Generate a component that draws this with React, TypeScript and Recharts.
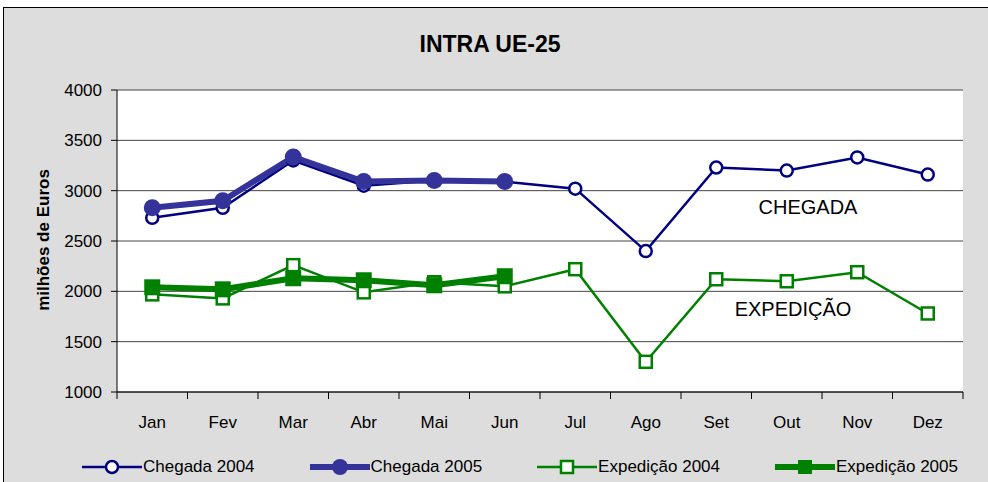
import { CartesianGrid, Line, LineChart, XAxis, YAxis } from 'recharts';

const months = ['Jan', 'Fev', 'Mar', 'Abr', 'Mai', 'Jun', 'Jul', 'Ago', 'Set', 'Out', 'Nov', 'Dez'];
const chegada2004 = [2730, 2830, 3300, 3050, 3100, 3090, 3020, 2400, 3230, 3200, 3330, 3160];
const chegada2005 = [2830, 2900, 3335, 3090, 3100, 3090];
const expedicao2004 = [1970, 1930, 2260, 1990, 2090, 2050, 2220, 1300, 2120, 2100, 2190, 1780];
const expedicao2005 = [2040, 2020, 2130, 2110, 2060, 2150];
const yTicks = [1000, 1500, 2000, 2500, 3000, 3500, 4000];

const data = months.map((m, i) => ({
    month: m,
    c2004: chegada2004[i],
    c2005: chegada2005[i] ?? null,
    e2004: expedicao2004[i],
    e2005: expedicao2005[i] ?? null,
}));

const NAVY = '#000080';
const BLUE = '#333399';
const GREEN = '#008000';
const FONT = 'Arial, "Liberation Sans", sans-serif';

// plot box: x 117..963, y 90..392
const PLOT_W = 846;
const HALF_BAND = PLOT_W / months.length / 2;

function squareDot(size: number, fill: string, strokeWidth: number) {
    return (props: any) => {
        const { cx, cy, index } = props;
        if (cx == null || cy == null || !Number.isFinite(cy)) return <g key={`s-${index}`} />;
        return (
            <rect
                key={`s-${index}`}
                x={cx - size / 2}
                y={cy - size / 2}
                width={size}
                height={size}
                fill={fill}
                stroke={GREEN}
                strokeWidth={strokeWidth}
            />
        );
    };
}

function MonthTick(props: any) {
    const { x, y, payload, index } = props;
    const last = index === months.length - 1;
    return (
        <g>
            <line x1={x - HALF_BAND} y1={y} x2={x - HALF_BAND} y2={y + 7} stroke="#000" />
            {last && <line x1={x + HALF_BAND} y1={y} x2={x + HALF_BAND} y2={y + 7} stroke="#000" />}
            <text x={x} y={y + 36} textAnchor="middle" fontSize={17} fill="#000" fontFamily={FONT}>
                {payload.value}
            </text>
        </g>
    );
}

function LegendIcon({ kind }: { kind: string }) {
    if (kind === 'c2004')
        return (
            <svg width={60} height={18}>
                <line x1={0} y1={9} x2={60} y2={9} stroke={NAVY} strokeWidth={2.5} />
                <circle cx={30} cy={9} r={6} fill="#fff" stroke={NAVY} strokeWidth={2.5} />
            </svg>
        );
    if (kind === 'c2005')
        return (
            <svg width={60} height={18}>
                <line x1={0} y1={9} x2={60} y2={9} stroke={BLUE} strokeWidth={6} />
                <circle cx={30} cy={9} r={8} fill={BLUE} />
            </svg>
        );
    if (kind === 'e2004')
        return (
            <svg width={60} height={18}>
                <line x1={0} y1={9} x2={60} y2={9} stroke={GREEN} strokeWidth={2.5} />
                <rect x={24} y={3} width={12} height={12} fill="#fff" stroke={GREEN} strokeWidth={2.5} />
            </svg>
        );
    return (
        <svg width={60} height={18}>
            <line x1={0} y1={9} x2={60} y2={9} stroke={GREEN} strokeWidth={6} />
            <rect x={23} y={2} width={14} height={14} fill={GREEN} />
        </svg>
    );
}

const legendItems = [
    { key: 'c2004', label: 'Chegada 2004' },
    { key: 'c2005', label: 'Chegada 2005' },
    { key: 'e2004', label: 'Expedição 2004' },
    { key: 'e2005', label: 'Expedição 2005' },
];

export default function App() {
    return (
        <div
            style={{
                position: 'absolute',
                left: 0,
                top: 0,
                width: 988,
                height: 482,
                overflow: 'hidden',
                background: '#fff',
                fontFamily: FONT,
            }}
        >
            <div
                style={{
                    position: 'absolute',
                    left: 3,
                    top: 7,
                    width: 1000,
                    height: 500,
                    background: '#dddddd',
                    borderTop: '1.5px solid #000',
                    borderLeft: '1.5px solid #000',
                }}
            />
            <div style={{ position: 'absolute', left: 0, top: 0 }}>
                <LineChart width={988} height={482} data={data} margin={{ top: 90, right: 25, bottom: 40, left: 0 }}>
                    <CartesianGrid vertical={false} fill="#fff" stroke="#444" strokeOpacity={1} />
                    <XAxis
                        dataKey="month"
                        height={50}
                        padding={{ left: HALF_BAND, right: HALF_BAND }}
                        axisLine={{ stroke: '#000' }}
                        tickLine={false}
                        tickSize={0}
                        tickMargin={0}
                        interval={0}
                        tick={<MonthTick />}
                    />
                    <YAxis
                        width={117}
                        domain={[1000, 4000]}
                        ticks={yTicks}
                        interval={0}
                        axisLine={{ stroke: '#000' }}
                        tickLine={{ stroke: '#000' }}
                        tickSize={6}
                        tickMargin={9}
                        tick={{ fontSize: 17, fill: '#000', fontFamily: FONT }}
                    />
                    <Line
                        type="linear"
                        dataKey="c2004"
                        stroke={NAVY}
                        strokeWidth={2.5}
                        dot={{ r: 6, fill: '#fff', stroke: NAVY, strokeWidth: 2.5 }}
                        activeDot={false}
                        isAnimationActive={false}
                    />
                    <Line
                        type="linear"
                        dataKey="c2005"
                        stroke={BLUE}
                        strokeWidth={6}
                        dot={{ r: 8.5, fill: BLUE, stroke: BLUE, strokeWidth: 0 }}
                        activeDot={false}
                        isAnimationActive={false}
                    />
                    <Line
                        type="linear"
                        dataKey="e2004"
                        stroke={GREEN}
                        strokeWidth={2.5}
                        dot={squareDot(12, '#fff', 2.5)}
                        activeDot={false}
                        isAnimationActive={false}
                    />
                    <Line
                        type="linear"
                        dataKey="e2005"
                        stroke={GREEN}
                        strokeWidth={6}
                        dot={squareDot(16, GREEN, 0)}
                        activeDot={false}
                        isAnimationActive={false}
                    />
                </LineChart>
            </div>

            <div
                style={{
                    position: 'absolute',
                    left: 490,
                    top: 44,
                    transform: 'translate(-50%, -50%)',
                    fontSize: 23,
                    fontWeight: 'bold',
                    whiteSpace: 'nowrap',
                }}
            >
                INTRA UE-25
            </div>
            <div
                style={{
                    position: 'absolute',
                    left: 44,
                    top: 240,
                    transform: 'translate(-50%, -50%) rotate(-90deg)',
                    fontSize: 17,
                    fontWeight: 'bold',
                    whiteSpace: 'nowrap',
                }}
            >
                milhões de Euros
            </div>
            <div
                style={{
                    position: 'absolute',
                    left: 808,
                    top: 207,
                    transform: 'translate(-50%, -50%)',
                    fontSize: 20,
                    whiteSpace: 'nowrap',
                }}
            >
                CHEGADA
            </div>
            <div
                style={{
                    position: 'absolute',
                    left: 793,
                    top: 309,
                    transform: 'translate(-50%, -50%)',
                    fontSize: 20,
                    whiteSpace: 'nowrap',
                }}
            >
                EXPEDIÇÃO
            </div>

            <div
                style={{
                    position: 'absolute',
                    left: 82,
                    top: 467,
                    transform: 'translateY(-50%)',
                    display: 'flex',
                    alignItems: 'center',
                    gap: 55,
                    fontSize: 17,
                    whiteSpace: 'nowrap',
                }}
            >
                {legendItems.map((it) => (
                    <div key={it.key} style={{ display: 'flex', alignItems: 'center' }}>
                        <LegendIcon kind={it.key} />
                        <span style={{ marginLeft: 1 }}>{it.label}</span>
                    </div>
                ))}
            </div>
        </div>
    );
}
